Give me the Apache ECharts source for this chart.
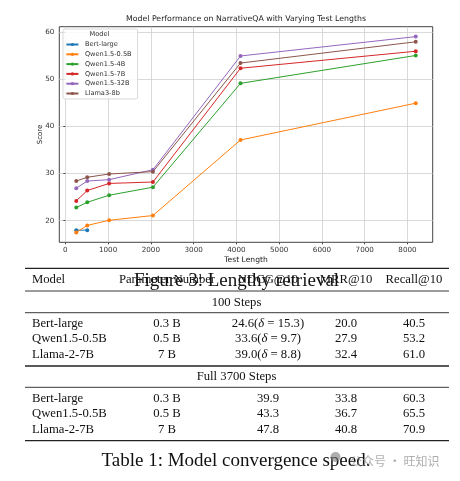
<!DOCTYPE html>
<html><head><meta charset="utf-8">
<script src="https://cdn.jsdelivr.net/npm/echarts@6/dist/echarts.min.js"></script>
<style>html,body{margin:0;padding:0;background:#fff}#c{width:460px;height:481px}</style>
</head><body><div id="c"></div>
<script>
// ---- chart data ----
const testLengths = [256, 512, 1024, 2048, 4096, 8192];
const modelNames = ['Bert-large', 'Qwen1.5-0.5B', 'Qwen1.5-4B', 'Qwen1.5-7B', 'Qwen1.5-32B', 'Llama3-8b'];
const bertLarge = [18.0, 18.0];
const qwen05b = [17.5, 19.0, 20.1, 21.1, 37.1, 44.9];
const qwen4b = [22.8, 23.9, 25.4, 27.1, 49.1, 55.0];
const qwen7b = [24.2, 26.4, 27.9, 28.2, 52.3, 55.9];
const qwen32b = [26.9, 28.4, 28.7, 30.8, 54.9, 59.0];
const llama8b = [28.4, 29.2, 29.9, 30.4, 53.4, 57.9];
const xTicks = [0, 1000, 2000, 3000, 4000, 5000, 6000, 7000, 8000];
const yTicks = [20, 30, 40, 50, 60];
const chartTitle = 'Model Performance on NarrativeQA with Varying Test Lengths';

// ---- table data ----
const tableHeader = ['Model', 'Parameter Number', 'NDCG@10', 'MRR@10', 'Recall@10'];
const sectionA = '100 Steps';
const rowModels = ['Bert-large', 'Qwen1.5-0.5B', 'Llama-2-7B'];
const rowParams = ['0.3 B', '0.5 B', '7 B'];
const ndcgA = ['24.6', '33.6', '39.0'];
const deltaA = ['15.3', '9.7', '8.8'];
const mrrA = ['20.0', '27.9', '32.4'];
const recallA = ['40.5', '53.2', '61.0'];
const sectionB = 'Full 3700 Steps';
const ndcgB = ['39.9', '43.3', '47.8'];
const mrrB = ['33.8', '36.7', '40.8'];
const recallB = ['60.3', '65.5', '70.9'];
const figCaption = 'Figure 3: Lengthy retrieval';
const tableCaption = 'Table 1: Model convergence speed.';
const watermark = '公众号 · 旺知识';

const colors = ['#1f77b4', '#ff7f0e', '#2ca02c', '#d62728', '#9467bd', '#8c564b'];
const seriesVals = [bertLarge, qwen05b, qwen4b, qwen7b, qwen32b, llama8b];

const chart = echarts.init(document.getElementById('c'), null, {renderer: 'canvas'});
const serif = '"Liberation Serif", "DejaVu Serif", serif';
const sans = '"DejaVu Sans", sans-serif';
const tf = '12.7px ';

const series = modelNames.map((n, i) => ({
  name: n, type: 'line',
  data: seriesVals[i].map((v, j) => [testLengths[j], v]),
  symbol: 'circle', symbolSize: 4, showSymbol: true,
  lineStyle: {width: 1, color: colors[i]},
  itemStyle: {color: colors[i]},
  emphasis: {disabled: true}, animation: false, z: 3
}));

const g = [];
function txt(x, y, t, o) {
  g.push(Object.assign({type: 'text', silent: true, z: 10,
    style: Object.assign({x: x, y: y, text: t, font: tf + serif, fill: '#111',
      textAlign: 'center', textVerticalAlign: 'middle'}, o || {})}));
}
function rule(y, w) {
  g.push({type: 'line', silent: true, z: 10, shape: {x1: 25, y1: y, x2: 449, y2: y},
    style: {stroke: '#222', lineWidth: w}});
}
// legend title
txt(99.5, 34.5, 'Model', {font: '6.6px ' + sans, fill: '#333'});
// chart title
txt(246, 19, chartTitle, {font: '7.8px ' + sans, fill: '#222'});

// table
const colX = [32, 167, 268, 346, 414];
rule(268.3, 1.3);
txt(colX[0], 280, tableHeader[0], {textAlign: 'left'});
for (let k = 1; k < 5; k++) txt(colX[k], 280, tableHeader[k]);
txt(236.5, 281, figCaption, {font: '19px ' + serif});
rule(291, 0.9);
txt(236.5, 302.3, sectionA);
rule(312.7, 0.9);
const rowYA = [323.5, 339, 355];
for (let r = 0; r < 3; r++) {
  txt(colX[0], rowYA[r], rowModels[r], {textAlign: 'left'});
  txt(colX[1], rowYA[r], rowParams[r]);
  txt(colX[2], rowYA[r], ndcgA[r] + '({i|δ} = ' + deltaA[r] + ')', {rich: {i: {font: 'italic ' + tf + serif, fill: '#111'}}});
  txt(colX[3], rowYA[r], mrrA[r]);
  txt(colX[4], rowYA[r], recallA[r]);
}
rule(366, 1.3);
txt(236.5, 376.7, sectionB);
rule(387.3, 0.9);
const rowYB = [399, 413.5, 429.3];
for (let r = 0; r < 3; r++) {
  txt(colX[0], rowYB[r], rowModels[r], {textAlign: 'left'});
  txt(colX[1], rowYB[r], rowParams[r]);
  txt(colX[2], rowYB[r], ndcgB[r]);
  txt(colX[3], rowYB[r], mrrB[r]);
  txt(colX[4], rowYB[r], recallB[r]);
}
rule(440.7, 1.3);
txt(236, 461, tableCaption, {font: '19px ' + serif});
// watermark
g.push({type: 'circle', silent: true, z: 11, shape: {cx: 335.5, cy: 457, r: 5}, style: {fill: 'rgba(120,120,120,0.6)'}});
txt(350, 461, watermark, {textAlign: 'left', font: '12px "Noto Sans CJK SC", sans-serif', fill: 'rgba(140,140,140,0.7)'});

chart.setOption({
  animation: false,
  backgroundColor: '#fff',
  grid: {left: 59.3, top: 26.7, right: 27.3, bottom: 238.7, show: true, borderColor: '#444', borderWidth: 1, containLabel: false},
  xAxis: {
    type: 'value', min: -141, max: 8589,
    name: 'Test Length', nameLocation: 'middle', nameGap: 14,
    nameTextStyle: {fontFamily: sans, fontSize: 7.6, color: '#222'},
    axisLine: {show: false},
    axisTick: {show: true, length: 2, lineStyle: {color: '#444'}, customValues: xTicks},
    axisLabel: {customValues: xTicks, formatter: v => String(v), fontFamily: sans, fontSize: 7.2, color: '#333', margin: 4},
    splitLine: {show: true, lineStyle: {color: '#cfcfcf', width: 0.8}}
  },
  yAxis: {
    type: 'value', min: 15.43, max: 61.1,
    name: 'Score', nameLocation: 'middle', nameGap: 16, nameRotate: 90, nameMoveOverlap: false,
    nameTextStyle: {fontFamily: sans, fontSize: 7, color: '#222'},
    axisLine: {show: false},
    axisTick: {show: true, length: 2, lineStyle: {color: '#444'}, customValues: yTicks},
    axisLabel: {customValues: yTicks, fontFamily: sans, fontSize: 7.2, color: '#333', margin: 5},
    splitLine: {show: true, lineStyle: {color: '#cfcfcf', width: 0.8}}
  },
  legend: {
    orient: 'vertical', left: 63, top: 29,
    padding: [12, 6, 2, 2.4],
    backgroundColor: 'rgba(255,255,255,0.85)', borderColor: '#d0d0d0', borderWidth: 0.8, borderRadius: 2,
    itemWidth: 12, itemHeight: 4, itemGap: 2.8,
    textStyle: {fontFamily: sans, fontSize: 6.6, color: '#333', lineHeight: 7, padding: [0, 0, 0, 1.5]},
    data: modelNames
  },
  series: series,
  graphic: g
});
</script></body></html>
